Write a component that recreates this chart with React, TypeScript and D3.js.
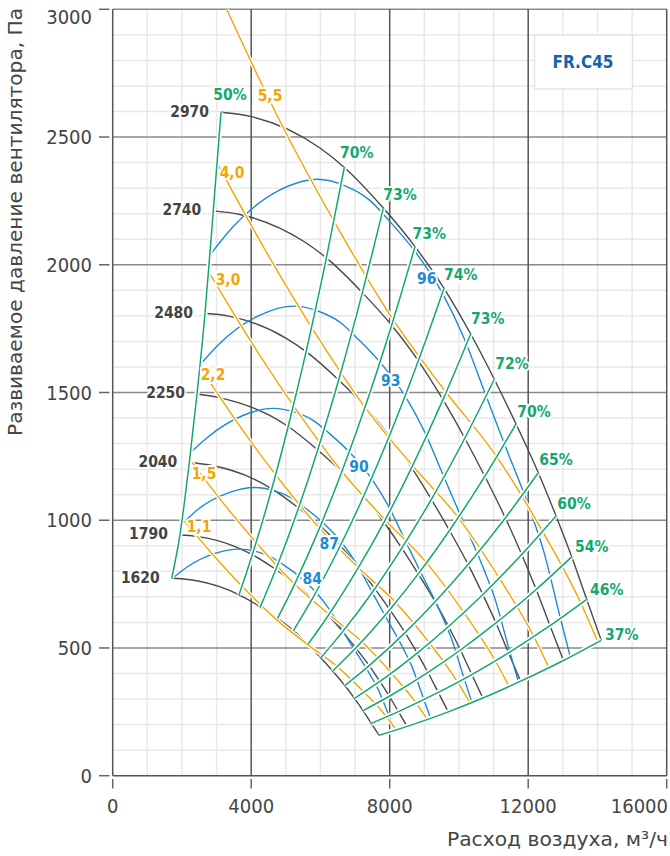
import React from 'react';
import * as d3 from 'd3';

// ---------- DATA ----------
const speeds = [1620, 1790, 2040, 2250, 2480, 2740, 2970];

const flow1620 = [1704, 2190, 3266, 3649, 4263, 4762, 5219, 5639, 6011, 6353, 6705, 6983, 7231, 7467, 7696];
const pres1620 = [773, 768, 731, 708, 661, 616, 568, 514, 462, 410, 353, 303, 255, 205, 158];
const flow1790 = [1941, 2419, 3608, 4031, 4710, 5262, 5767, 6231, 6642, 7020, 7408, 7716, 7990, 8251, 8504];
const pres1790 = [942, 937, 893, 865, 807, 752, 693, 628, 564, 500, 431, 369, 311, 251, 193];
const flow2040 = [2212, 2757, 4112, 4595, 5368, 5997, 6572, 7102, 7570, 8001, 8443, 8794, 9106, 9403, 9692];
const pres2040 = [1226, 1217, 1159, 1123, 1048, 977, 900, 816, 732, 650, 560, 480, 404, 326, 250];
const flow2250 = [2435, 3041, 4536, 5068, 5921, 6614, 7249, 7833, 8349, 8824, 9312, 9699, 10043, 10371, 10690];
const pres2250 = [1494, 1481, 1410, 1367, 1275, 1189, 1095, 992, 891, 790, 681, 584, 492, 396, 304];
const flow2480 = [2666, 3352, 4999, 5586, 6526, 7291, 7990, 8633, 9203, 9726, 10264, 10691, 11070, 11431, 11782];
const pres2480 = [1810, 1799, 1713, 1660, 1549, 1444, 1330, 1206, 1082, 960, 827, 709, 598, 481, 370];
const flow2740 = [2905, 3703, 5523, 6171, 7210, 8055, 8827, 9538, 10168, 10746, 11340, 11812, 12230, 12630, 13017];
const pres2740 = [2211, 2196, 2091, 2027, 1891, 1763, 1624, 1472, 1321, 1172, 1009, 866, 729, 587, 451];
const flow2970 = [3128, 4014, 5987, 6689, 7815, 8731, 9568, 10339, 11021, 11648, 12292, 12803, 13257, 13690, 14110];
const pres2970 = [2597, 2580, 2457, 2381, 2222, 2071, 1908, 1729, 1552, 1377, 1186, 1017, 857, 690, 530];

const speedFlows = [flow1620, flow1790, flow2040, flow2250, flow2480, flow2740, flow2970];
const speedPres = [pres1620, pres1790, pres2040, pres2250, pres2480, pres2740, pres2970];

// efficiency lines: index into speed curve points
const effLabels = ['50%', '70%', '73%', '73%', '74%', '73%', '72%', '70%', '65%', '60%', '54%', '46%', '37%'];
const effIndex = [0, 3, 4, 5, 6, 7, 8, 9, 10, 11, 12, 13, 14];
const effLabelFlow = [3388, 7047, 8297, 9144, 10051, 10830, 11532, 12168, 12803, 13323, 13834, 14267, 14700];
const effLabelPres = [2665, 2439, 2274, 2124, 1960, 1791, 1615, 1425, 1239, 1067, 897, 727, 551];

// blue curves
const blueLevels = ['84', '87', '90', '93', '96'];
const flow84 = [1733, 2149, 2981, 3640, 4134, 4566, 4936, 5387, 5891, 6248, 6664, 6960, 7435, 7673, 7970, 8149];
const pres84 = [773, 817, 871, 887, 878, 857, 825, 780, 715, 653, 562, 498, 395, 336, 237, 178];
const flow87 = [1993, 2421, 3358, 4101, 4657, 5143, 5560, 6068, 6636, 7038, 7507, 7840, 8375, 8643, 8978, 9179];
const pres87 = [982, 1038, 1108, 1128, 1116, 1089, 1048, 991, 909, 830, 715, 633, 502, 427, 301, 227];
const flow90 = [2232, 2734, 3793, 4632, 5260, 5809, 6280, 6854, 7495, 7949, 8479, 8856, 9460, 9762, 10141, 10367];
const pres90 = [1262, 1324, 1412, 1438, 1423, 1389, 1337, 1264, 1159, 1059, 912, 807, 641, 545, 384, 289];
const flow93 = [2521, 3089, 4286, 5233, 5943, 6564, 7096, 7744, 8469, 8982, 9580, 10006, 10689, 11031, 11458, 11715];
const pres93 = [1608, 1692, 1805, 1838, 1818, 1775, 1708, 1615, 1481, 1353, 1165, 1031, 818, 696, 490, 369];
const flow96 = [2790, 3483, 4832, 5900, 6700, 7400, 8000, 8731, 9548, 10126, 10801, 11281, 12051, 12436, 12918, 13207];
const pres96 = [2035, 2150, 2293, 2335, 2310, 2255, 2170, 2052, 1882, 1719, 1480, 1310, 1040, 884, 623, 469];
const blueFlows = [flow84, flow87, flow90, flow93, flow96];
const bluePres = [pres84, pres87, pres90, pres93, pres96];
const blueLabelFlow = [5765, 6256, 7113, 8029, 9069];
const blueLabelPres = [773, 910, 1210, 1545, 1944];

// orange power curves, kW
const powerLabels = ['1,1', '1,5', '2,2', '3,0', '4,0', '5,5'];
const flowP11 = [1953, 2838, 3736, 4739, 5634, 6485, 7257, 7911, 8192];
const presP11 = [1015, 874, 742, 610, 513, 427, 327, 230, 179];
const flowP15 = [2166, 3147, 4143, 5255, 6247, 7192, 8048, 8773, 9084];
const presP15 = [1249, 1075, 913, 750, 631, 525, 402, 283, 220];
const flowP22 = [2460, 3576, 4707, 5972, 7098, 8172, 9145, 9968, 10322];
const presP22 = [1612, 1387, 1178, 969, 814, 678, 520, 365, 284];
const flowP30 = [2729, 3965, 5220, 6621, 7871, 9062, 10140, 11053, 11446];
const presP30 = [1982, 1706, 1449, 1191, 1001, 834, 639, 449, 350];
const flowP40 = [3004, 4364, 5746, 7287, 8664, 9975, 11161, 12166, 12598];
const presP40 = [2402, 2067, 1755, 1442, 1213, 1011, 774, 544, 423];
const flowP55 = [3290, 4853, 6389, 8104, 9634, 11089, 12411, 13529, 14010];
const presP55 = [3000, 2556, 2171, 1784, 1500, 1249, 957, 673, 524];
const powerFlows = [flowP11, flowP15, flowP22, flowP30, flowP40, flowP55];
const powerPres = [presP11, presP15, presP22, presP30, presP40, presP55];
const powerLabelFlow = [2492, 2637, 2897, 3330, 3446, 4543];
const powerLabelPres = [974, 1181, 1569, 1941, 2360, 2661];

const xTicks = [0, 4000, 8000, 12000, 16000];
const yTicks = [0, 500, 1000, 1500, 2000, 2500, 3000];

const modelName = 'FR.C45';
const xTitle = 'Расход воздуха, м³/ч';
const yTitle = 'Развиваемое давление вентилятора, Па';

// ---------- STYLE ----------
const FONT = "'DejaVu Sans Condensed', 'Liberation Sans Narrow', 'Roboto Condensed', 'DejaVu Sans', sans-serif";
const C_BLACK = '#4a4a4a';
const C_BLUE = '#1b8bd3';
const C_ORANGE = '#f5a400';
const C_GREEN = '#14a870';
const C_TEXT = '#454545';

export default function App() {
  const W = 670, H = 856;
  const left = 112.7, right = 666.7, top = 9.3, bottom = 775.7;
  const x = d3.scaleLinear().domain([0, 16000]).range([left, right]);
  const y = d3.scaleLinear().domain([0, 3000]).range([bottom, top]);
  const line = d3.line<[number, number]>().x(d => x(d[0])).y(d => y(d[1])).curve(d3.curveMonotoneX);
  const zip = (a: number[], b: number[]) => a.map((v, i) => [v, b[i]] as [number, number]);

  const minorX = d3.range(1000, 16000, 1000).filter(v => v % 4000 !== 0);
  const minorY = d3.range(100, 3000, 100).filter(v => v % 500 !== 0);

  const greenLines = effIndex.map(k => speeds.map((_, s) => [speedFlows[s][k], speedPres[s][k]] as [number, number]));

  const labelStyle = (color: string) => ({
    fill: color, fontFamily: FONT, fontWeight: 700, fontSize: 15.5,
    stroke: '#fff', strokeWidth: 4, paintOrder: 'stroke' as const, strokeLinejoin: 'round' as const,
  });

  return (
    <svg width={W} height={H} style={{ position: 'absolute', left: 0, top: 0, background: '#fff' }}>
      <defs>
        <clipPath id="plot"><rect x={left} y={top} width={right - left} height={bottom - top} /></clipPath>
      </defs>
      <rect x={0} y={0} width={W} height={H} fill="#fff" />
      {/* minor grid */}
      {minorX.map(v => <line key={'mx' + v} x1={x(v)} x2={x(v)} y1={top} y2={bottom} stroke="#e8e8e8" strokeWidth={1.5} />)}
      {minorY.map(v => <line key={'my' + v} x1={left} x2={right} y1={y(v)} y2={y(v)} stroke="#e8e8e8" strokeWidth={1.5} />)}
      {/* major horizontal */}
      {yTicks.filter(v => v > 0).map(v => <line key={'hy' + v} x1={left} x2={right} y1={y(v)} y2={y(v)} stroke="#8a8a8a" strokeWidth={1.5} />)}
      {/* major vertical */}
      {xTicks.filter(v => v > 0 && v < 16000).map(v => <line key={'vx' + v} x1={x(v)} x2={x(v)} y1={top} y2={bottom} stroke="#555" strokeWidth={1.5} />)}
      {/* frame */}
      <line x1={left} x2={left} y1={top} y2={bottom} stroke="#555" strokeWidth={1.5} />
      <line x1={right} x2={right} y1={top} y2={bottom} stroke="#555" strokeWidth={1.5} />
      <line x1={left} x2={right} y1={bottom} y2={bottom} stroke="#555" strokeWidth={1.5} />
      {/* ticks */}
      {yTicks.map(v => <line key={'ty' + v} x1={99} x2={109.5} y1={y(v)} y2={y(v)} stroke="#666" strokeWidth={1.5} />)}
      {xTicks.map(v => <line key={'tx' + v} x1={x(v)} x2={x(v)} y1={779} y2={788.5} stroke="#666" strokeWidth={1.5} />)}
      {/* tick labels */}
      {yTicks.map(v => (
        <text key={'ly' + v} x={92} y={Math.max(y(v), 17)} dy="0.35em" textAnchor="end" fontFamily={FONT} fontSize={20} fill={C_TEXT}>{v}</text>
      ))}
      {xTicks.map((v, i) => (
        <text key={'lx' + v} x={i === xTicks.length - 1 ? 668 : x(v)} y={806} dy="0.35em" textAnchor={i === xTicks.length - 1 ? 'end' : 'middle'} fontFamily={FONT} fontSize={20} fill={C_TEXT}>{v}</text>
      ))}
      <text x={668} y={846} textAnchor="end" fontFamily={FONT} fontSize={20} fill={C_TEXT} textLength={221} lengthAdjust="spacingAndGlyphs">{xTitle}</text>
      <text transform="translate(22,222) rotate(-90)" textAnchor="middle" fontFamily={FONT} fontSize={20} fill={C_TEXT} textLength={428} lengthAdjust="spacingAndGlyphs">{yTitle}</text>

      {/* model box */}
      <rect x={534.5} y={35} width={98} height={54} fill="#fff" stroke="#e4e4e4" strokeWidth={1.5} />
      <text x={583} y={62} dy="0.35em" textAnchor="middle" fontFamily={FONT} fontWeight={700} fontSize={17} fill="#1662ae">{modelName}</text>

      <g clipPath="url(#plot)">
        {/* speed curves */}
        {speeds.map((s, i) => (
          <path key={'sp' + s} d={line(zip(speedFlows[i], speedPres[i])) || ''} fill="none" stroke={C_BLACK} strokeWidth={1.4} />
        ))}
        {/* blue curves */}
        {blueLevels.map((b, i) => (
          <path key={'bl' + b} d={line(zip(blueFlows[i], bluePres[i])) || ''} fill="none" stroke={C_BLUE} strokeWidth={1.4} />
        ))}
        {/* orange power curves */}
        {powerLabels.map((p, i) => (
          <path key={'poh' + p} d={line(zip(powerFlows[i], powerPres[i])) || ''} fill="none" stroke="#fff" strokeWidth={4} />
        ))}
        {powerLabels.map((p, i) => (
          <path key={'po' + p} d={line(zip(powerFlows[i], powerPres[i])) || ''} fill="none" stroke={C_ORANGE} strokeWidth={1.4} />
        ))}
        {/* green efficiency lines */}
        {greenLines.map((g, i) => (
          <path key={'gh' + i} d={line(g) || ''} fill="none" stroke="#fff" strokeWidth={5} />
        ))}
        {greenLines.map((g, i) => (
          <path key={'g' + i} d={line(g) || ''} fill="none" stroke={C_GREEN} strokeWidth={1.5} />
        ))}
      </g>

      {/* labels */}
      {speeds.map((s, i) => (
        <text key={'sl' + s} x={x(speedFlows[i][0]) - 12} y={y(speedPres[i][0]) - 1} dy="0.35em" textAnchor="end" {...labelStyle('#444')}>{s}</text>
      ))}
      {powerLabels.map((p, i) => (
        <text key={'pl' + p} x={x(powerLabelFlow[i])} y={y(powerLabelPres[i])} dy="0.35em" textAnchor="middle" {...labelStyle(C_ORANGE)}>{p}</text>
      ))}
      {blueLevels.map((b, i) => (
        <text key={'blt' + b} x={x(blueLabelFlow[i])} y={y(blueLabelPres[i])} dy="0.35em" textAnchor="middle" {...labelStyle(C_BLUE)}>{b}</text>
      ))}
      {effLabels.map((e, i) => (
        <text key={'el' + i} x={x(effLabelFlow[i])} y={y(effLabelPres[i])} dy="0.35em" textAnchor="middle" {...labelStyle(C_GREEN)}>{e}</text>
      ))}
    </svg>
  );
}
